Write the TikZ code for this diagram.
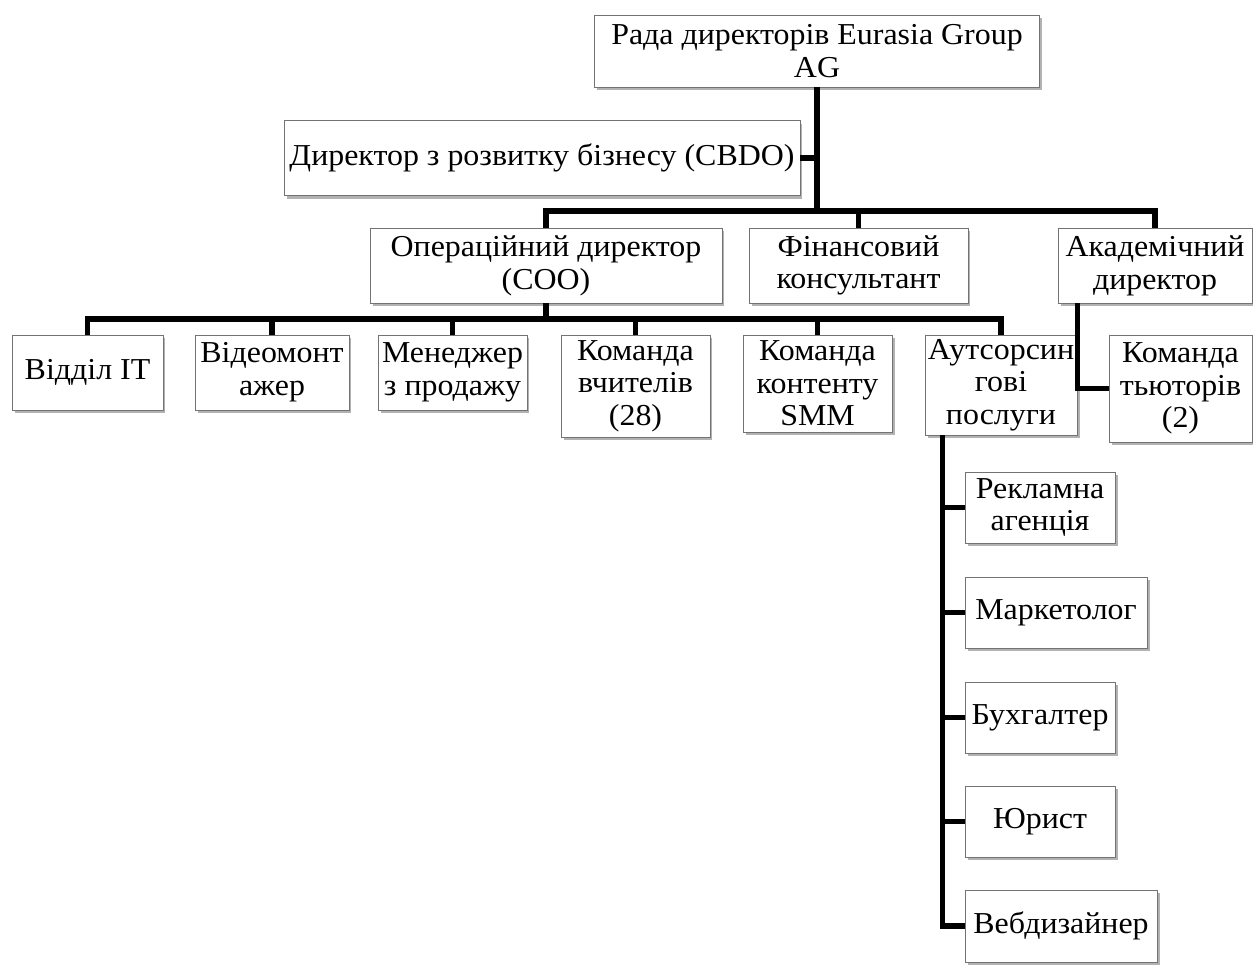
\documentclass[tikz,border=0pt]{standalone}
\usepackage{fontspec}
\setmainfont{Liberation Serif}[FakeStretch=1.05]
\usetikzlibrary{shadows}
\begin{document}
\begin{tikzpicture}[x=0.02cm, y=-0.02cm,
box/.style={draw=black!55, fill=white, align=center, inner sep=0pt,
  font=\fontsize{17.3}{18.6}\selectfont, minimum height=1.5cm,
  drop shadow={shadow xshift=0.05cm, shadow yshift=-0.06cm, fill=black, opacity=0.3}},
link/.style={line width=0.11cm}]
\useasboundingbox (0,0) rectangle (1253,968);
\node[box, minimum width=8.9cm, minimum height=1.44cm] (board) at (817,51) {Рада директорів Eurasia Group\\AG};
\node[box, minimum width=10.32cm] (cbdo) at (542,158) {Директор з розвитку бізнесу (CBDO)};
\node[box, minimum width=7.04cm] (coo) at (546,265.5) {Операційний директор\\(COO)};
\node[box, minimum width=4.38cm] (fin) at (858.5,265.5) {Фінансовий\\консультант};
\node[box, minimum width=3.88cm] (acad) at (1155,265.5) {Академічний\\директор};
\node[box, minimum width=3.02cm] (it) at (87.5,372.5) {Відділ IT};
\node[box, minimum width=3.08cm] (video) at (272,372.5) {Відеомонт\\ажер};
\node[box, minimum width=2.98cm] (sales) at (452.5,372.5) {Менеджер\\з продажу};
\node[box, minimum width=2.98cm, minimum height=2.04cm] (teachers) at (635.5,386) {Команда\\вчителів\\(28)};
\node[box, minimum width=2.98cm, minimum height=1.94cm] (smm) at (817.5,383.5) {Команда\\контенту\\SMM};
\node[box, minimum width=3.04cm, minimum height=2.0cm] (outs) at (1001,385) {Аутсорсин\\гові\\послуги};
\node[box, minimum width=2.86cm, minimum height=2.14cm] (tutors) at (1180.5,388.5) {Команда\\тьюторів\\(2)};
\node[box, minimum width=3.0cm, minimum height=1.42cm] (ad) at (1040,507.5) {Рекламна\\агенція};
\node[box, minimum width=3.64cm, minimum height=1.42cm] (mkt) at (1056,612.5) {Маркетолог};
\node[box, minimum width=3.0cm, minimum height=1.42cm] (acc) at (1040,717.5) {Бухгалтер};
\node[box, minimum width=3.0cm, minimum height=1.42cm] (law) at (1040,821.5) {Юрист};
\node[box, minimum width=3.84cm, minimum height=1.44cm] (web) at (1061,926) {Вебдизайнер};
\coordinate (bar1) at (817,211);
\coordinate (bar2) at (546,319);
\coordinate (acadlink) at ([xshift=0.4cm]acad.south west);
\coordinate (outslink) at ([xshift=0.36cm]outs.south west);
\draw[link] (board.south) -- (board.south |- bar1);
\draw[link] (cbdo.east) -- (cbdo.east -| board.south);
\draw[link] (coo.north) |- (acad.north |- bar1) -- (acad.north);
\draw[link] (fin.north) -- (fin.north |- bar1);
\draw[link] (coo.south) -- (coo.south |- bar2);
\draw[link] (it.north) |- (outs.north |- bar2) -- (outs.north);
\foreach \n in {video,sales,teachers,smm}
  \draw[link] (\n.north) -- (\n.north |- bar2);
\draw[link] (acadlink) |- (tutors.west);
\draw[link] (outslink) |- (web.west);
\foreach \n in {ad,mkt,acc,law}
  \draw[link] (\n.west) -- (\n.west -| outslink);
\end{tikzpicture}
\end{document}
